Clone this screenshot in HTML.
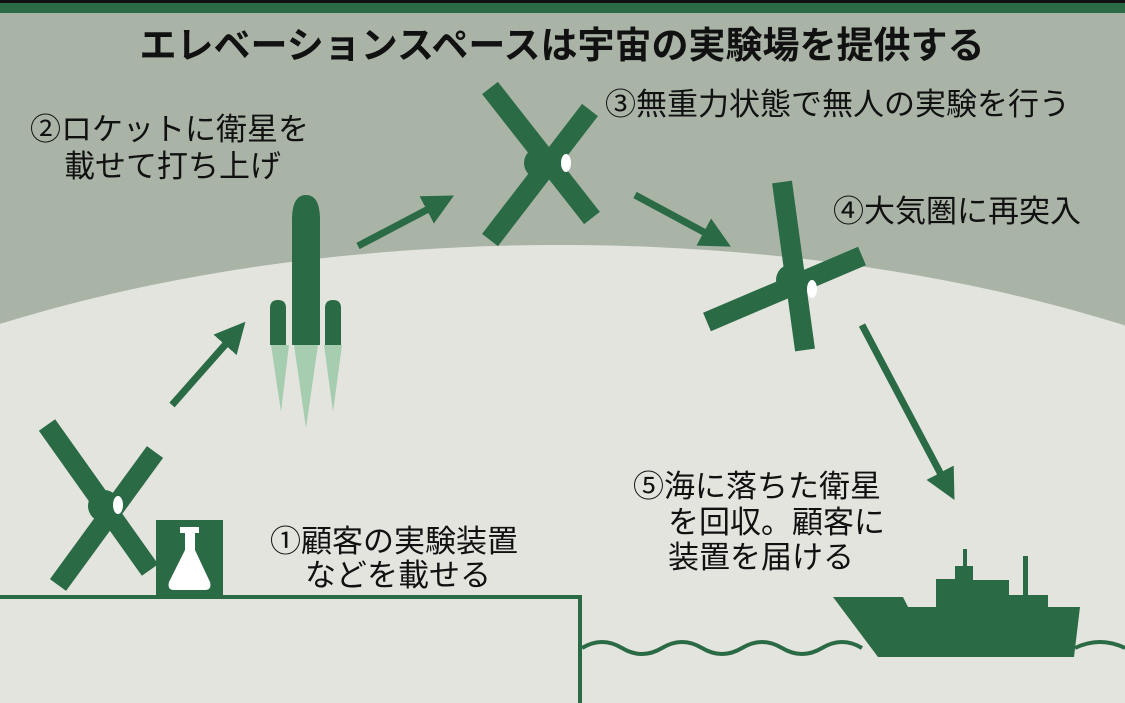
<!DOCTYPE html>
<html><head><meta charset="utf-8"><style>
html,body{margin:0;width:1125px;height:703px;overflow:hidden;background:#e4e4df}
svg{display:block}
text{font-family:"Liberation Sans","Noto Sans CJK JP",sans-serif;fill:#111}
</style></head><body>
<svg width="1125" height="703" viewBox="0 0 1125 703">
<defs>
<marker id="ah" markerWidth="4.4" markerHeight="4.4" refX="1.5" refY="2.2" orient="auto"><path d="M0,0 L4.4,2.2 L0,4.4 Z" fill="#2a6a45"/></marker>
</defs>
<rect x="0" y="0" width="1125" height="703" fill="#a9b4a7"/>
<rect x="0" y="0" width="1125" height="3" fill="#111"/>
<rect x="0" y="3" width="1125" height="10" fill="#2a6a45"/>
<ellipse cx="560" cy="705" rx="1000" ry="460" fill="#e4e4df"/>
<rect x="0" y="600" width="1125" height="103" fill="#e4e4df"/>
<text x="562" y="58" font-size="37" font-weight="bold" text-anchor="middle" textLength="845" lengthAdjust="spacingAndGlyphs">エレベーションスペースは宇宙の実験場を提供する</text>
<text x="30" y="140" font-size="31">②ロケットに衛星を</text>
<text x="64" y="177" font-size="31">載せて打ち上げ</text>
<text x="605" y="115" font-size="31">③無重力状態で無人の実験を行う</text>
<text x="833" y="222" font-size="31">④大気圏に再突入</text>
<text x="270" y="552" font-size="31">①顧客の実験装置</text>
<text x="305" y="586" font-size="31">などを載せる</text>
<text x="633" y="497" font-size="31">⑤海に落ちた衛星</text>
<text x="668" y="533" font-size="31">を回収。顧客に</text>
<text x="668" y="568" font-size="31">装置を届ける</text>
<g stroke="#2a6a45" stroke-width="20">
<line x1="47" y1="425" x2="150" y2="570"/><line x1="155" y1="452" x2="58" y2="585"/>
<line x1="490" y1="88" x2="592" y2="218"/><line x1="590" y1="110" x2="490" y2="240"/>
<line x1="782" y1="182" x2="805" y2="350"/><line x1="707" y1="322" x2="862" y2="256"/>
</g>
<g fill="#2a6a45">
<circle cx="104" cy="506" r="16"/><circle cx="540" cy="163" r="16"/><circle cx="792" cy="280" r="16"/>
</g>
<g fill="#fff">
<ellipse cx="118" cy="505" rx="5" ry="9"/><ellipse cx="566" cy="163" rx="5" ry="9"/><ellipse cx="812" cy="289" rx="5" ry="9"/>
</g>
<g stroke="#2a6a45" stroke-width="7" fill="none" marker-end="url(#ah)">
<line x1="172" y1="405" x2="232" y2="337"/>
<line x1="358" y1="246" x2="436" y2="205"/>
<line x1="635" y1="195" x2="713" y2="237"/>
<line x1="862" y1="325" x2="945" y2="482"/>
</g>
<g fill="#a6cdb0">
<path d="M271,345 L289,345 L281,412 Z"/><path d="M294,345 L318,345 L306,428 Z"/><path d="M324,345 L342,345 L333,412 Z"/>
</g>
<g fill="#2a6a45">
<path d="M292,345 L292,220 Q292,195 306,195 Q320,195 320,220 L320,345 Z"/>
<path d="M270,345 L270,308 Q270,300 278,300 Q286,300 286,308 L286,345 Z"/>
<path d="M325,345 L325,308 Q325,300 333,300 Q341,300 341,308 L341,345 Z"/>
<rect x="156" y="520" width="67" height="78"/>
<path d="M833,597 L903,597 L908,607 L936,607 L936,579 L955,579 L955,566 L963,566 L963,549 L967,549 L967,566 L973,566 L973,580 L1009,580 L1009,595 L1023,595 L1023,556 L1028,556 L1028,595 L1048,595 L1048,607 L1080,607 L1074,657 L878,657 Z"/>
</g>
<path d="M180,527 L199,527 L199,533 L195,533 L195,550 L210,582 Q212,590 205,590 L174,590 Q167,590 169,582 L185,550 L185,533 L180,533 Z" fill="#fff"/>
<path d="M0,597 L580,597 L580,703" stroke="#2a6a45" stroke-width="4" fill="none"/>
<path d="M582,648 q20,-12 40,0 t40,0 t40,0 t40,0 t40,0 t40,0 t40,0 M1075,648 q25,-12 50,0" stroke="#2a6a45" stroke-width="4" fill="none"/>
</svg>
</body></html>
